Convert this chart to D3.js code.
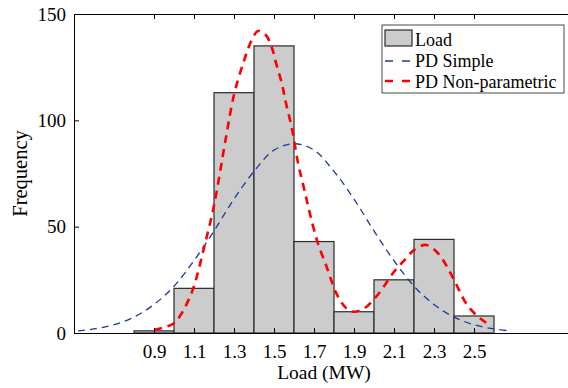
<!DOCTYPE html>
<html>
<head>
<meta charset="utf-8">
<script src="https://cdn.jsdelivr.net/npm/d3@7"></script>
<style>
  body { margin: 0; background: #fff; }
  svg { display: block; font-family: "Liberation Serif", "Times New Roman", serif; }
</style>
</head>
<body>
<div id="vis"></div>
<script>
var width = 568;
var height = 388;

// histogram bins (MW) and counts
var binCenters = [0.9, 1.1, 1.3, 1.5, 1.7, 1.9, 2.1, 2.3, 2.5];
var binCounts = [1, 21, 113, 135, 43, 10, 25, 44, 8];
var binWidth = 0.2;

// PD Simple curve
var simpleX = [0.52, 0.6, 0.7, 0.8, 0.9, 1.0, 1.1, 1.2, 1.3, 1.4, 1.5, 1.6, 1.7, 1.8, 1.9, 2.0, 2.1, 2.2, 2.3, 2.4, 2.5, 2.6, 2.68];
var simpleY = [1.0, 1.9, 3.9, 7.5, 13.4, 22, 34, 48, 63, 76, 86, 89, 86, 76, 63, 48, 34, 22, 13.4, 7.5, 3.9, 1.9, 1.0];

// PD Non-parametric curve
var kernelX = [0.9, 0.95, 1.0, 1.04, 1.07, 1.1, 1.15, 1.2, 1.26, 1.3, 1.35, 1.39, 1.42, 1.46, 1.49, 1.51, 1.54, 1.56, 1.59,
    1.62, 1.65, 1.68, 1.72, 1.76, 1.78, 1.81, 1.84, 1.87, 1.9, 1.95, 2.01, 2.05, 2.1, 2.15, 2.2, 2.26, 2.32, 2.36, 2.4,
    2.46, 2.51, 2.55, 2.59];
var kernelY = [1.4, 2.6, 4.6, 9.5, 15, 22, 40, 60, 92, 112, 128, 138, 142, 140, 134, 127, 117, 108, 96,
    80, 68, 56, 42, 32, 26.5, 19, 14, 11, 10, 11.5, 17, 22, 28.8, 34, 39, 41.4, 37.5, 32, 25,
    14, 8.5, 5.5, 3.2];

var xTicks = [0.9, 1.1, 1.3, 1.5, 1.7, 1.9, 2.1, 2.3, 2.5];
var yTicks = [0, 50, 100, 150];
var legendNames = ['Load', 'PD Simple', 'PD Non-parametric'];

var plotLeft = 74, plotTop = 14, plotBottom = 333, plotRight = 574;

var x = d3.scaleLinear().domain([0.5, 3]).range([plotLeft, plotRight]);
var y = d3.scaleLinear().domain([0, 150]).range([plotBottom, plotTop]);

var svg = d3.select('#vis')
    .append('svg')
    .attr('width', width)
    .attr('height', height);

// bars
svg.append('g').selectAll('rect')
    .data(binCenters)
    .enter().append('rect')
    .attr('x', function (d) { return x(d - binWidth / 2); })
    .attr('width', function (d) { return x(d + binWidth / 2) - x(d - binWidth / 2); })
    .attr('y', function (d, i) { return y(binCounts[i]); })
    .attr('height', function (d, i) { return y(0) - y(binCounts[i]); })
    .attr('fill', '#cccccc')
    .attr('stroke', '#2b2b2b')
    .attr('stroke-width', 1.2);

var line = d3.line()
    .x(function (d) { return x(d[0]); })
    .y(function (d) { return y(d[1]); })
    .curve(d3.curveCatmullRom);

svg.append('path')
    .attr('d', line(d3.zip(simpleX, simpleY)))
    .attr('fill', 'none')
    .attr('stroke', '#1f3899')
    .attr('stroke-width', 1.3)
    .attr('stroke-dasharray', '7,5');

svg.append('path')
    .attr('d', line(d3.zip(kernelX, kernelY)))
    .attr('fill', 'none')
    .attr('stroke', '#ff0000')
    .attr('stroke-width', 2.6)
    .attr('stroke-dasharray', '8,6');

// axes, ticks pointing inward
function styleAxis(g) {
    g.attr('font-family', '"Liberation Serif", serif').attr('font-size', 19);
    g.selectAll('path, line').attr('stroke', '#000').attr('stroke-width', 1);
    g.selectAll('text').attr('fill', '#000');
}

svg.append('g')
    .attr('transform', 'translate(0,' + plotBottom + ')')
    .call(d3.axisBottom(x).tickValues(xTicks).tickFormat(d3.format('.1f'))
        .tickSizeInner(-5).tickSizeOuter(0).tickPadding(12))
    .call(styleAxis);

svg.append('g')
    .attr('transform', 'translate(0,' + plotTop + ')')
    .call(d3.axisTop(x).tickValues(xTicks).tickFormat('')
        .tickSizeInner(-5).tickSizeOuter(0))
    .call(styleAxis);

svg.append('g')
    .attr('transform', 'translate(' + plotLeft + ',0)')
    .call(d3.axisLeft(y).tickValues(yTicks).tickFormat(d3.format('d'))
        .tickSizeInner(-5).tickSizeOuter(0).tickPadding(8))
    .call(styleAxis);

svg.append('text')
    .attr('x', (plotLeft + plotRight) / 2)
    .attr('y', 379)
    .attr('text-anchor', 'middle')
    .attr('font-size', 19.5)
    .text('Load (MW)');

svg.append('text')
    .attr('transform', 'translate(27,' + (plotTop + plotBottom) / 2 + ') rotate(-90)')
    .attr('text-anchor', 'middle')
    .attr('font-size', 20.5)
    .text('Frequency');

// legend
var legend = svg.append('g');
legend.append('rect')
    .attr('x', 382).attr('y', 25)
    .attr('width', 182).attr('height', 68)
    .attr('fill', '#fff')
    .attr('stroke', '#333')
    .attr('stroke-width', 0.9);

legend.append('rect')
    .attr('x', 385).attr('y', 30)
    .attr('width', 27).attr('height', 16)
    .attr('fill', '#cccccc')
    .attr('stroke', '#2b2b2b')
    .attr('stroke-width', 1.2);

legend.append('line')
    .attr('x1', 385).attr('x2', 410).attr('y1', 61).attr('y2', 61)
    .attr('stroke', '#1f3899').attr('stroke-width', 1.3)
    .attr('stroke-dasharray', '8,9');

legend.append('line')
    .attr('x1', 385).attr('x2', 410).attr('y1', 81).attr('y2', 81)
    .attr('stroke', '#ff0000').attr('stroke-width', 2.6)
    .attr('stroke-dasharray', '8,9');

legend.selectAll('text.name')
    .data(legendNames)
    .enter().append('text')
    .attr('class', 'name')
    .attr('x', 415)
    .attr('y', function (d, i) { return 45.5 + i * 21.3; })
    .attr('font-size', 18)
    .text(function (d) { return d; });
</script>
</body>
</html>
